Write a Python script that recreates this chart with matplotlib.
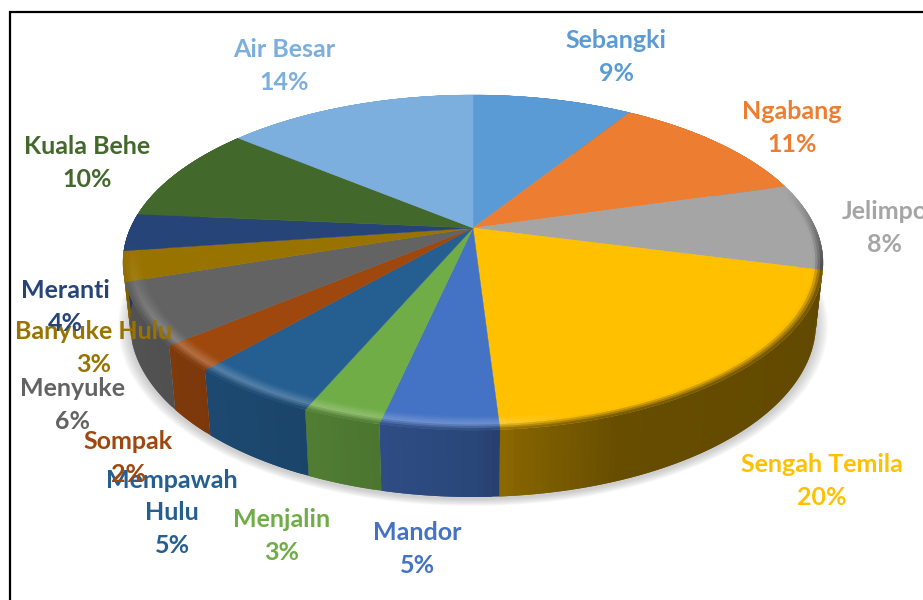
#!/usr/bin/env python3
# 3D look pie chart, kecamatan shares
import numpy as np
import matplotlib
matplotlib.use('Agg')
import matplotlib.pyplot as plt
from matplotlib.collections import PolyCollection
from matplotlib.colors import to_rgb

# data
names = ['Sebangki', 'Ngabang', 'Jelimpo', 'Sengah Temila', 'Mandor', 'Menjalin',
         'Mempawah\nHulu', 'Sompak', 'Menyuke', 'Banyuke Hulu', 'Meranti',
         'Kuala Behe', 'Air Besar']
shares = [9.0, 11.6, 8.4, 20.0, 4.5, 3.0, 5.0, 2.5, 5.9, 2.9, 3.6, 9.5, 14.1]
pct_labels = ['9%', '11%', '8%', '20%', '5%', '3%', '5%', '2%', '6%', '3%', '4%', '10%', '14%']
colors = ['#5B9BD5', '#ED7D31', '#A5A5A5', '#FFC000', '#4472C4', '#70AD47', '#255E91',
          '#9E480E', '#636363', '#997300', '#264478', '#43682B', '#7CAFDD']

# layout, in pixels
cx, cy = 473, 228
sx, sy, persp = 342.5, 160.4, 0.206
label_xy = [(616, 57), (792, 128), (885, 228), (822, 481), (417, 549), (282, 536),
            (172, 513), (128, 458), (73, 405), (94, 348), (65, 307), (87, 163), (284, 66)]


def top_pts(t, r=1.0):
    u, v = r * np.sin(t), r * np.cos(t)
    w = 1 + persp * v
    return cx + sx * u / w, cy - sy * v / w


def bottom_pts(t):
    x, y = top_pts(t)
    return cx + (x - cx) * 0.98, y + 59 - 8 * np.cos(t)


def wall_factor(t):
    return np.interp(np.sin(t), [-1, -0.5, 0, 0.1, 0.35, 1], [0.85, 0.75, 0.62, 0.52, 0.40, 0.38])


def bevel_strength(t):
    # the bevel only shows on the front, it dies out earlier on the left
    limit = 0.25 if np.sin(t) > 0 else -0.1
    return np.clip((limit - np.cos(t)) / 0.5, 0, 1)


fig = plt.figure(figsize=(9.23, 6), dpi=100)
ax = fig.add_axes([0, 0, 1, 1])
ax.set_xlim(0, 923)
ax.set_ylim(600, 0)
ax.axis('off')

edges = np.cumsum([0] + shares) / sum(shares) * 2 * np.pi

# soft shadow under the pie
tt = np.linspace(0, 2 * np.pi, 300)
bx, by = bottom_pts(tt)
for i in range(12):
    k = 1.035 - i * 0.003
    ax.fill(cx + (bx - cx) * k, 295 + (by - 295) * k + 2, color='#808080', alpha=0.035, lw=0, zorder=1)

# side wall, thin strips so the shading can change along the rim
# each strip runs over into the next one, that hides the seams
for a, b, c in zip(edges[:-1], edges[1:], colors):
    n = max(int((b - a) * 60), 3)
    ts = np.linspace(a, b, n + 1)
    step = ts[1] - ts[0]
    polys, cols = [], []
    base = np.array(to_rgb(c))
    for t0, t1 in zip(ts[:-1], ts[1:]):
        tn = min(t1 + step, b)
        x0, y0 = top_pts(t0)
        x1, y1 = top_pts(tn)
        x2, y2 = bottom_pts(tn)
        x3, y3 = bottom_pts(t0)
        polys.append([(x0, y0), (x1, y1), (x2, y2), (x3, y3)])
        cols.append(base * wall_factor((t0 + t1) / 2))
    ax.add_collection(PolyCollection(polys, facecolors=cols, edgecolors='none', zorder=2))

# top surface
for a, b, c in zip(edges[:-1], edges[1:], colors):
    ts = np.linspace(a, b, 80)
    x, y = top_pts(ts)
    ax.fill(np.r_[cx, x], np.r_[cy, y], color=c, lw=0.3, zorder=3)

# bevel along the front rim
rings = np.linspace(0.945, 1.0, 9)
for a, b, c in zip(edges[:-1], edges[1:], colors):
    n = max(int((b - a) * 60), 3)
    ts = np.linspace(a, b, n + 1)
    step = ts[1] - ts[0]
    base = np.array(to_rgb(c))
    polys, cols = [], []
    for t0, t1 in zip(ts[:-1], ts[1:]):
        tm = (t0 + t1) / 2
        tn = min(t1 + step, b)
        strength = bevel_strength(tm)
        light = np.interp(np.sin(tm), [-1, 0.05, 0.25, 1], [0.22, 0.22, 0.0, 0.0])
        wall = base * wall_factor(tm)
        for r0, r1 in zip(rings[:-1], rings[1:]):
            rm = (r0 + r1) / 2
            if rm < 0.975:
                p = (rm - 0.945) / 0.03
                col = base + (1 - base) * light * p
            else:
                p = (rm - 0.975) / 0.025
                col = (base + (1 - base) * light) * (1 - p) + wall * p
            col = base * (1 - strength) + col * strength
            x0, y0 = top_pts(t0, r0)
            x1, y1 = top_pts(tn, r0)
            x2, y2 = top_pts(tn, r1)
            x3, y3 = top_pts(t0, r1)
            polys.append([(x0, y0), (x1, y1), (x2, y2), (x3, y3)])
            cols.append(col)
    ax.add_collection(PolyCollection(polys, facecolors=cols, edgecolors=cols, linewidths=0.2, zorder=4))

# labels
for name, pct, c, (lx, ly) in zip(names, pct_labels, colors, label_xy):
    ax.text(lx, ly, name + '\n' + pct, color=c, ha='center', va='center', fontsize=18,
            fontweight='bold', family='Lato', linespacing=1.49, zorder=6)

# frame, only left and top are inside the crop
ax.plot([10, 10, 923], [600, 12, 12], color='black', lw=1.6, zorder=7, solid_joinstyle='miter')

fig.savefig('out.png', dpi=100)
